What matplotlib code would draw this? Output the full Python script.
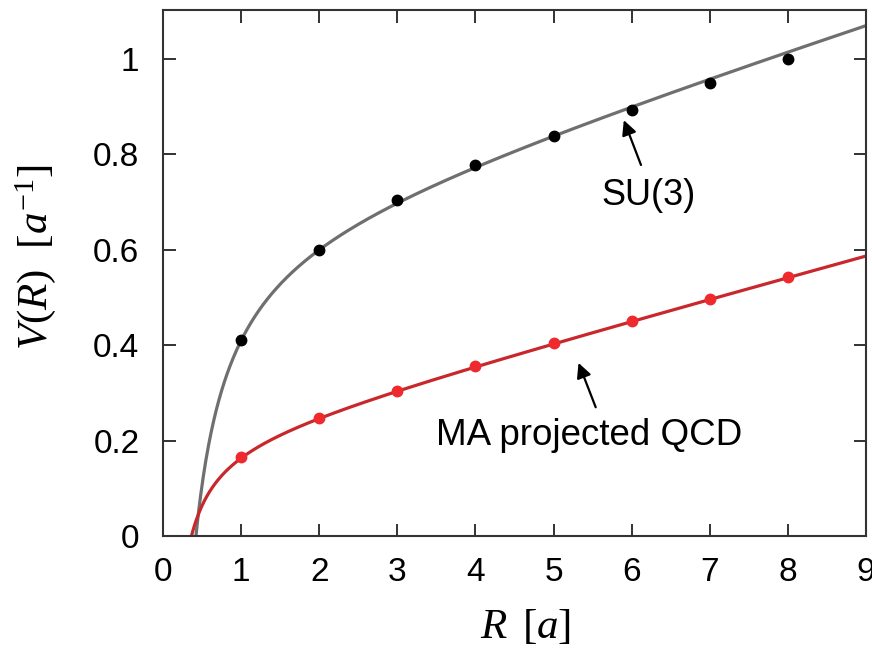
import numpy as np
import matplotlib
matplotlib.use("Agg")
import matplotlib.pyplot as plt

plt.rcParams['font.family'] = ['Liberation Sans', 'DejaVu Sans']
plt.rcParams['mathtext.fontset'] = 'custom'
plt.rcParams['mathtext.rm'] = 'Liberation Serif'
plt.rcParams['mathtext.it'] = 'Liberation Serif:italic'

# Data
R_points = [1, 2, 3, 4, 5, 6, 7, 8]
V_su3 = [0.410, 0.600, 0.705, 0.778, 0.838, 0.893, 0.950, 1.000]
V_ma = [0.165, 0.248, 0.305, 0.357, 0.405, 0.450, 0.497, 0.543]

# Cornell fit parameters V = sigma*R - A/R + C (estimated from the curves)
fit_su3 = dict(sigma=0.0518, A=0.2764, C=0.6346)
fit_ma = dict(sigma=0.0444, A=0.0771, C=0.1960)

x_ticks = [0, 1, 2, 3, 4, 5, 6, 7, 8, 9]
y_ticks = [0, 0.2, 0.4, 0.6, 0.8, 1.0]
y_ticklabels = ['0', '0.2', '0.4', '0.6', '0.8', '1']

fig = plt.figure(figsize=(8.72, 6.48), dpi=100)
ax = fig.add_axes([0.187, 0.1728, 0.806, 0.8118])

def cornell(r, p):
    return p['sigma'] * r - p['A'] / r + p['C']

r = np.linspace(0.2, 9.2, 800)
ax.plot(r, cornell(r, fit_su3), color='#6f6f6f', lw=2.3, zorder=2)
ax.plot(r, cornell(r, fit_ma), color='#c8282c', lw=2.3, zorder=2)
ax.plot(R_points, V_su3, 'o', color='black', ms=7.5, zorder=3)
ax.plot(R_points, V_ma, 'o', color='#ee2a2e', ms=7.5, zorder=3)

ax.set_xlim(0, 9)
ax.set_ylim(0, 1.103)
ax.set_xticks(x_ticks)
ax.set_yticks(y_ticks)
ax.set_yticklabels(y_ticklabels)
ax.tick_params(direction='in', length=9, width=1.3, top=True, right=True,
               labelsize=24, colors='#222222', labelcolor='black')
ax.tick_params(axis='y', pad=17)
ax.tick_params(axis='x', pad=15)
for s in ax.spines.values():
    s.set_linewidth(1.5)
    s.set_color('#333333')

ax.set_xlabel(r'$R\ \,[a]$', fontsize=31)
ax.xaxis.set_label_coords(0.515, -0.135)
ax.set_ylabel(r'$V(R)\ \ [a^{-1}]$', fontsize=31)
ax.yaxis.set_label_coords(-0.15, 0.53)

arrow = dict(arrowstyle='-|>', color='black', lw=1.6, mutation_scale=22,
             shrinkA=0, shrinkB=0)
ax.annotate('', xy=(5.90, 0.872), xytext=(6.12, 0.778), arrowprops=arrow)
ax.text(6.22, 0.715, 'SU(3)', fontsize=26, ha='center', va='center')
ax.annotate('', xy=(5.32, 0.363), xytext=(5.54, 0.270), arrowprops=arrow)
ax.text(5.45, 0.210, 'MA projected QCD', fontsize=26.5, ha='center', va='center')

fig.savefig('out.png', dpi=100)
